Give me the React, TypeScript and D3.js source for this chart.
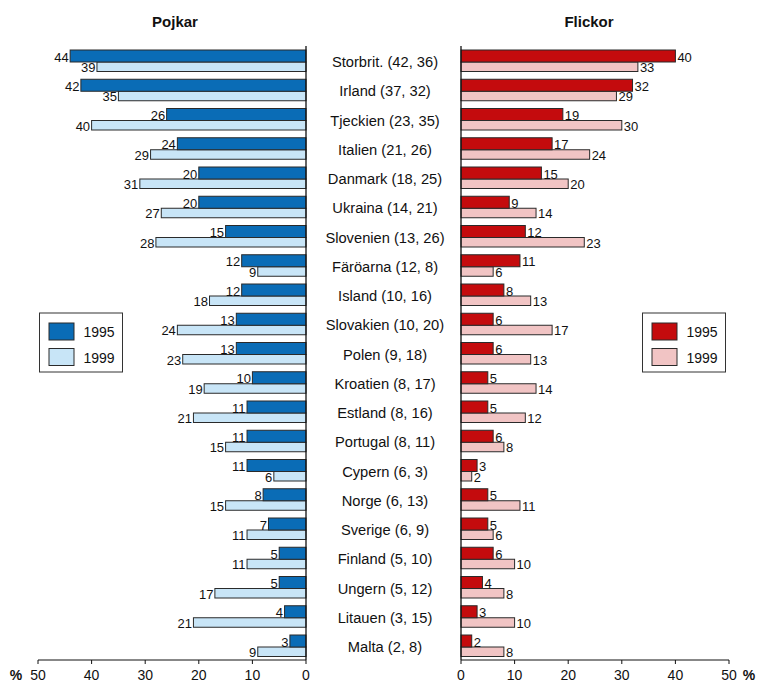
import React from "react";
import * as d3 from "d3";

const countries = ["Storbrit. (42, 36)", "Irland (37, 32)", "Tjeckien (23, 35)", "Italien (21, 26)", "Danmark (18, 25)", "Ukraina (14, 21)", "Slovenien (13, 26)", "Färöarna (12, 8)", "Island (10, 16)", "Slovakien (10, 20)", "Polen (9, 18)", "Kroatien (8, 17)", "Estland (8, 16)", "Portugal (8, 11)", "Cypern (6, 3)", "Norge (6, 13)", "Sverige (6, 9)", "Finland (5, 10)", "Ungern (5, 12)", "Litauen (3, 15)", "Malta (2, 8)"];
const boys1995 = [44, 42, 26, 24, 20, 20, 15, 12, 12, 13, 13, 10, 11, 11, 11, 8, 7, 5, 5, 4, 3];
const boys1999 = [39, 35, 40, 29, 31, 27, 28, 9, 18, 24, 23, 19, 21, 15, 6, 15, 11, 11, 17, 21, 9];
const girls1995 = [40, 32, 19, 17, 15, 9, 12, 11, 8, 6, 6, 5, 5, 6, 3, 5, 5, 6, 4, 3, 2];
const girls1999 = [33, 29, 30, 24, 20, 14, 23, 6, 13, 17, 13, 14, 12, 8, 2, 11, 6, 10, 8, 10, 8];
const ticks = [0, 10, 20, 30, 40, 50];
const years = ["1995", "1999"];

const FONT = "'Liberation Sans', Arial, sans-serif";
const C = { b95: "#0a6cb6", b99: "#c8e5f7", g95: "#c40b0d", g99: "#f1c4c4", stroke: "#2a2a2a" };

export default function App() {
  const W = 760, H = 684;
  const xL = d3.scaleLinear().domain([0, 50]).range([306, 38]);
  const xR = d3.scaleLinear().domain([0, 50]).range([461, 729]);
  const step = 29.25;
  const y = d3.scaleBand().domain(countries).range([50, 50 + countries.length * step]).padding(0);
  const h95 = 12, h99 = 9.5;
  const axisY = 660;

  const sideBars = (x: d3.ScaleLinear<number, number>, v95: number[], v99: number[], c95: string, c99: string, left: boolean) =>
    countries.map((c, i) => {
      const y0 = y(c)!;
      const x0 = x(0);
      const a = x(v95[i]), b = x(v99[i]);
      return (
        <g key={c}>
          <rect x={Math.min(x0, b)} y={y0 + h95} width={Math.abs(b - x0)} height={h99} fill={c99} stroke={C.stroke} strokeWidth={1} />
          <rect x={Math.min(x0, a)} y={y0} width={Math.abs(a - x0)} height={h95} fill={c95} stroke={C.stroke} strokeWidth={1} />
          <text x={left ? a - 1.5 : a + 2} y={y0 + h95 - 0.5} textAnchor={left ? "end" : "start"} fontSize={13} fill="#111">{v95[i]}</text>
          <text x={left ? b - 1.5 : b + 2} y={y0 + h95 + h99 + 0.5} textAnchor={left ? "end" : "start"} fontSize={13} fill="#111">{v99[i]}</text>
        </g>
      );
    });

  const axis = (x: d3.ScaleLinear<number, number>) => (
    <g>
      <line x1={x(0)} x2={x(50)} y1={axisY} y2={axisY} stroke="#111" strokeWidth={1} />
      {ticks.map(t => (
        <g key={t}>
          <line x1={x(t)} x2={x(t)} y1={axisY} y2={axisY + 4} stroke="#111" />
          <text x={x(t)} y={680} textAnchor="middle" fontSize={14} fill="#111">{t}</text>
        </g>
      ))}
      <line x1={x(0)} x2={x(0)} y1={46} y2={axisY} stroke="#111" strokeWidth={1.3} />
    </g>
  );

  const legend = (x0: number, c95: string, c99: string) => (
    <g>
      <rect x={x0} y={313} width={83} height={59} fill="white" stroke="#333" />
      {years.map((yr, i) => (
        <g key={yr}>
          <rect x={x0 + 9.5} y={323 + i * 25.5} width={25} height={17} fill={i === 0 ? c95 : c99} stroke={C.stroke} />
          <text x={x0 + 44} y={337 + i * 25.5} fontSize={14} fill="#111">{yr}</text>
        </g>
      ))}
    </g>
  );

  return (
    <svg width={W} height={H} style={{ position: "absolute", left: 0, top: 0 }} fontFamily={FONT}>
      <rect width={W} height={H} fill="white" />
      <text x={175} y={27} textAnchor="middle" fontSize={15} fontWeight="bold" fill="#111">Pojkar</text>
      <text x={589} y={27} textAnchor="middle" fontSize={15} fontWeight="bold" fill="#111">Flickor</text>
      {sideBars(xL, boys1995, boys1999, C.b95, C.b99, true)}
      {sideBars(xR, girls1995, girls1999, C.g95, C.g99, false)}
      {axis(xL)}
      {axis(xR)}
      {countries.map(c => (
        <text key={c} x={385} y={y(c)! + 17.2} textAnchor="middle" fontSize={14.7} fill="#111">{c}</text>
      ))}
      <text x={16} y={680} textAnchor="middle" fontSize={14} fontWeight="bold" fill="#111">%</text>
      <text x={749} y={680} textAnchor="middle" fontSize={14} fontWeight="bold" fill="#111">%</text>
      {legend(39.5, C.b95, C.b99)}
      {legend(642.5, C.g95, C.g99)}
    </svg>
  );
}
